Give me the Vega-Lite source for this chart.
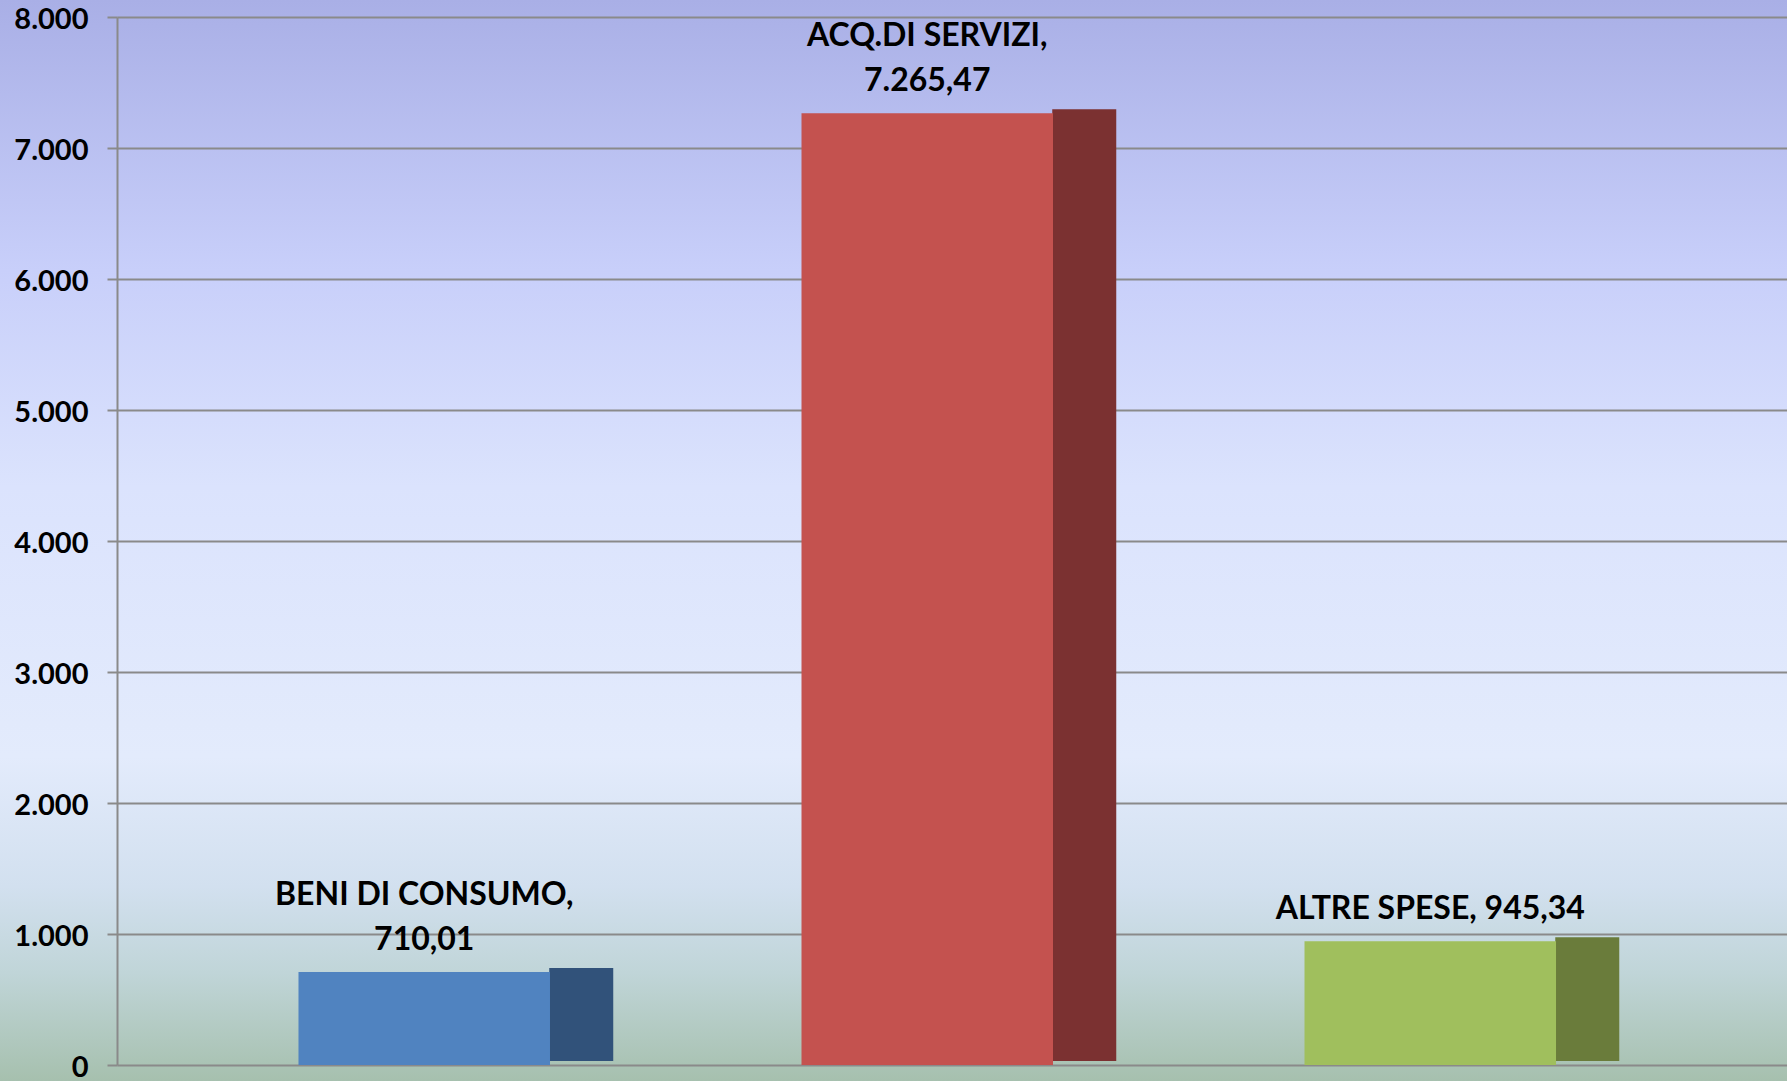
{
  "$schema": "https://vega.github.io/schema/vega-lite/v6.json",
  "width": 1787,
  "height": 1081,
  "autosize": {"type": "none"},
  "padding": 0,
  "config": {
    "locale": {"number": {"decimal": ",", "thousands": ".", "grouping": [3], "currency": ["€", ""]}},
    "font": "Lato",
    "view": {
      "stroke": null,
      "fill": {
        "gradient": "linear", "x1": 0, "y1": 0, "x2": 0, "y2": 1,
        "stops": [
          {"offset": 0, "color": "#a9afe6"},
          {"offset": 0.25, "color": "#c8cffa"},
          {"offset": 0.45, "color": "#dbe3fd"},
          {"offset": 0.7, "color": "#e3ebfc"},
          {"offset": 0.82, "color": "#d2e0ef"},
          {"offset": 0.9, "color": "#c0d5d8"},
          {"offset": 1, "color": "#a6c0ae"}
        ]
      }
    }
  },
  "data": {
    "values": [
      {"categoria": "BENI DI CONSUMO", "valore": 710.01, "riga1": "BENI DI CONSUMO,", "riga2": "710,01"},
      {"categoria": "ACQ.DI SERVIZI", "valore": 7265.47, "riga1": "ACQ.DI SERVIZI,", "riga2": "7.265,47"},
      {"categoria": "ALTRE SPESE", "valore": 945.34, "riga1": "", "riga2": "ALTRE SPESE, 945,34"}
    ]
  },
  "encoding": {
    "x": {
      "field": "categoria", "type": "nominal", "sort": null,
      "scale": {"range": [117, 1787], "paddingInner": 0.5, "paddingOuter": 0.41, "align": 0.44},
      "axis": null
    },
    "y": {
      "field": "valore", "type": "quantitative",
      "scale": {"domain": [0, 8000], "range": [1065, 17], "nice": false},
      "axis": {
        "title": null,
        "values": [0, 1000, 2000, 3000, 4000, 5000, 6000, 7000, 8000],
        "format": ",d",
        "offset": -117,
        "grid": true,
        "gridColor": "#8a8a8a",
        "gridWidth": 2,
        "domainColor": "#8a8a8a",
        "domainWidth": 2,
        "tickColor": "#8a8a8a",
        "tickWidth": 2,
        "tickSize": 10,
        "labelFont": "Lato",
        "labelFontWeight": "bold",
        "labelFontSize": 29,
        "labelColor": "#000000",
        "labelPadding": 19,
        "labelOffset": 2,
        "labelFlush": false,
        "labelBound": false
      }
    }
  },
  "layer": [
    {
      "mark": {"type": "bar", "width": 64, "xOffset": 157, "yOffset": -4},
      "encoding": {
        "color": {
          "field": "categoria", "type": "nominal", "legend": null,
          "scale": {"domain": ["BENI DI CONSUMO", "ACQ.DI SERVIZI", "ALTRE SPESE"], "range": ["#31527a", "#7b3131", "#6a7c3b"]}
        }
      }
    },
    {
      "mark": {"type": "bar"},
      "encoding": {
        "fill": {
          "field": "categoria", "type": "nominal", "legend": null,
          "scale": {"domain": ["BENI DI CONSUMO", "ACQ.DI SERVIZI", "ALTRE SPESE"], "range": ["#5083c0", "#c4524f", "#a0bf5d"]}
        }
      }
    },
    {
      "mark": {"type": "text", "align": "center", "baseline": "alphabetic", "dy": -67, "fontSize": 32, "fontWeight": "bold", "font": "Lato", "color": "#000000"},
      "encoding": {"text": {"field": "riga1"}}
    },
    {
      "mark": {"type": "text", "align": "center", "baseline": "alphabetic", "dy": -22, "fontSize": 32, "fontWeight": "bold", "font": "Lato", "color": "#000000"},
      "encoding": {"text": {"field": "riga2"}}
    }
  ]
}
